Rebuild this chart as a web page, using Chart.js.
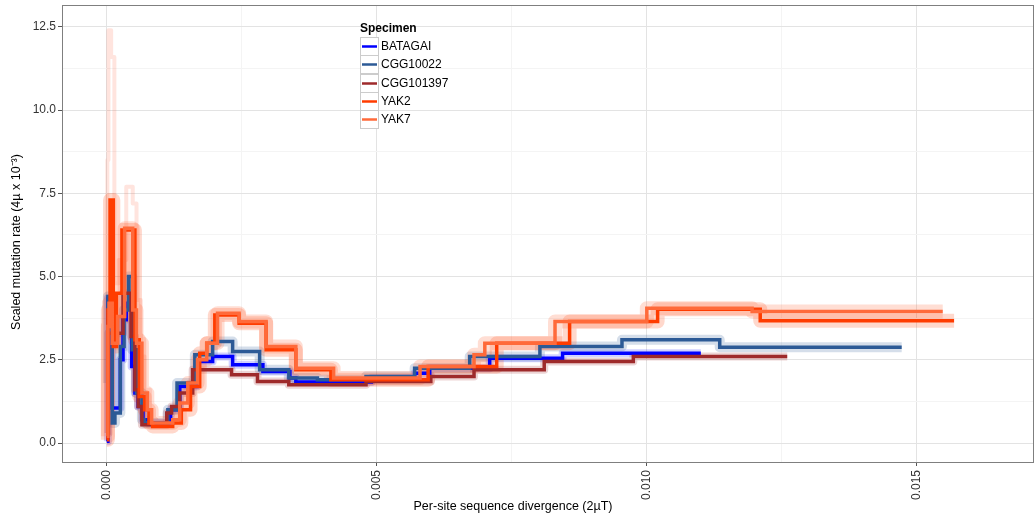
<!DOCTYPE html>
<html>
<head>
  <title>Scaled mutation rate by specimen</title>
  <script src="https://cdn.jsdelivr.net/npm/chart.js"></script>
  <style>
    body {
      margin: 0;
      background: #fff;
      font-family: "Liberation Sans", Arial, sans-serif;
    }
    .chart-box {
      position: relative;
      width: 1034px;
      height: 515px;
    }
  </style>
</head>
<body>
  <div class="chart-box">
    <canvas id="myChart"></canvas>
  </div>
  <script>
    const specimens = ['BATAGAI', 'CGG10022', 'CGG101397', 'YAK2', 'YAK7'];
    const colors = ['#0000ff', '#2c5a96', '#9e2a2b', '#ff3c00', '#ff6a3a'];
    const haloColors = ['rgba(0,0,255,0.18)', 'rgba(44,90,150,0.2)', 'rgba(158,42,43,0.2)', 'rgba(255,60,0,0.2)', 'rgba(255,106,58,0.22)'];
    const haloWidths = [8, 10, 8, 14, 14];

    // per-site divergence (x) where each step starts, scaled mutation rate (y)
    const batagaiX = [0, 0.00002, 0.0001, 0.00025, 0.0003, 0.00036, 0.00046, 0.00052, 0.00058, 0.00067, 0.00078, 0.00118, 0.00135, 0.00167, 0.00196, 0.00233, 0.00289, 0.00339, 0.0035, 0.0049, 0.0057, 0.00598, 0.00709, 0.00844, 0.0110];
    const batagaiY = [0.05, 4.35, 1.05, 2.5, 3.7, 4.2, 2.3, 1.5, 1.1, 0.7, 0.6, 1.0, 1.7, 2.45, 2.6, 2.35, 2.15, 1.95, 1.83, 1.95, 2.1, 2.25, 2.55, 2.7, 2.7];

    const cgg10022X = [0, 0.00002, 0.0001, 0.00015, 0.00025, 0.00032, 0.0004, 0.00047, 0.00055, 0.00065, 0.0007, 0.00113, 0.0013, 0.00163, 0.00196, 0.00233, 0.00283, 0.00337, 0.0039, 0.0048, 0.0057, 0.00672, 0.00802, 0.00954, 0.01135, 0.01472];
    const cgg10022Y = [1.8, 4.4, 0.6, 0.9, 2.9, 4.0, 5.0, 2.8, 1.5, 0.7, 0.6, 1.0, 1.8, 2.65, 3.05, 2.75, 2.2, 1.95, 1.9, 2.0, 2.25, 2.6, 2.9, 3.1, 2.88, 2.88];

    const cgg101397X = [0, 0.00003, 0.0003, 0.00045, 0.00052, 0.00058, 0.00065, 0.00111, 0.0012, 0.00135, 0.00159, 0.00231, 0.00279, 0.00337, 0.0048, 0.006, 0.0068, 0.0081, 0.00975, 0.0126];
    const cgg101397Y = [0.3, 3.3, 4.5, 3.2, 1.6, 1.1, 0.55, 0.9, 1.1, 1.5, 2.2, 2.05, 1.85, 1.75, 1.85, 2.0, 2.2, 2.45, 2.6, 2.6];

    const yak2X = [0, 0.00002, 0.00006, 0.00012, 0.00018, 0.00028, 0.00052, 0.0006, 0.0007, 0.00078, 0.00085, 0.00122, 0.00138, 0.00155, 0.00172, 0.00185, 0.002, 0.00245, 0.00295, 0.0035, 0.00415, 0.00595, 0.00722, 0.00857, 0.0102, 0.0121, 0.01569];
    const yak2Y = [0.1, 4.0, 7.3, 2.9, 4.5, 6.4, 3.1, 1.4, 1.0, 0.6, 0.5, 0.6, 1.0, 1.7, 2.7, 3.0, 3.85, 3.6, 2.8, 2.2, 1.9, 2.3, 3.0, 3.65, 4.02, 3.67, 3.67];

    const yak7X = [0, 0.00002, 0.00004, 0.0001, 0.0002, 0.00033, 0.00048, 0.00055, 0.00065, 0.00075, 0.00083, 0.00122, 0.00135, 0.0015, 0.00168, 0.00185, 0.00205, 0.00245, 0.00295, 0.0035, 0.0042, 0.0058, 0.0068, 0.007, 0.0083, 0.01, 0.01195, 0.01548];
    const yak7Y = [0.2, 3.5, 4.2, 3.0, 3.8, 6.45, 4.0, 3.0, 1.5, 1.0, 0.6, 0.7, 1.2, 1.8, 2.5, 3.0, 3.9, 3.65, 2.9, 2.25, 1.95, 2.3, 2.65, 3.0, 3.65, 4.05, 3.95, 3.95];

    // upper edge of the YAK bootstrap spread near the origin
    const yakBootX = [0, 0.00001, 0.00003, 0.00008, 0.00014, 0.00022, 0.00036, 0.00048, 0.00055, 0.00063, 0.0007, 0.0008];
    const yakBootY = [0.3, 8.5, 12.4, 11.6, 4.8, 5.5, 7.7, 7.2, 4.3, 2.6, 1.6, 0.9];

    const xTickLabels = [0, 0.005, 0.010, 0.015];
    const yTickLabels = [0, 2.5, 5, 7.5, 10, 12.5];

    const seriesX = [batagaiX, cgg10022X, cgg101397X, yak2X, yak7X];
    const seriesY = [batagaiY, cgg10022Y, cgg101397Y, yak2Y, yak7Y];

    const xStep = 0.005, yStep = 2.5;
    function isMajor(v, step) {
      const r = v / step;
      return Math.abs(r - Math.round(r)) < 1e-6;
    }
    // major ticks plus one minor line half way between
    function withMinor(list, step) {
      const out = [];
      list.forEach(v => { out.push(v); out.push(v + step / 2); });
      out.unshift(list[0] - step / 2);
      return out;
    }

    const datasets = [];
    datasets.push({
      label: 'YAK bootstrap', data: yakBootX.map((x, j) => ({ x: x, y: yakBootY[j] })),
      borderColor: 'rgba(255,90,50,0.16)', borderWidth: 4, borderJoinStyle: 'round',
      stepped: 'before', pointRadius: 0, order: 40
    });
    specimens.forEach((name, i) => {
      const pts = seriesX[i].map((x, j) => ({ x: x, y: seriesY[i][j] }));
      datasets.push({
        label: name + ' bootstrap', data: pts,
        borderColor: haloColors[i], borderWidth: haloWidths[i], borderJoinStyle: 'round',
        stepped: 'before', pointRadius: 0, order: 30 - i
      });
      datasets.push({
        label: name, data: pts,
        borderColor: colors[i], borderWidth: 3.5,
        stepped: 'before', pointRadius: 0, order: 10 - i
      });
    });

    const FONT = '"Liberation Sans", Arial, sans-serif';

    const legendBox = {
      id: 'legendBox',
      afterDraw(chart) {
        const ctx = chart.ctx;
        ctx.save();
        ctx.textBaseline = 'middle';
        ctx.fillStyle = '#000';
        ctx.font = 'bold 12px ' + FONT;
        ctx.fillText('Specimen', 360, 29);
        specimens.forEach((name, i) => {
          const top = Math.round(37 + i * 18.3);
          ctx.fillStyle = '#fff';
          ctx.fillRect(360, top, 18, 18);
          ctx.strokeStyle = '#cccccc';
          ctx.lineWidth = 1;
          ctx.strokeRect(360.5, top + 0.5, 18, 18);
          ctx.strokeStyle = colors[i];
          ctx.lineWidth = 2.5;
          ctx.beginPath();
          ctx.moveTo(362, top + 9.5);
          ctx.lineTo(377, top + 9.5);
          ctx.stroke();
          ctx.fillStyle = '#000';
          ctx.font = '12px ' + FONT;
          ctx.fillText(name, 381, top + 10);
        });

        // axis titles
        ctx.font = '12.5px ' + FONT;
        ctx.textAlign = 'center';
        ctx.fillText('Per-site sequence divergence (2µT)', 513, 507);
        ctx.translate(17, 242);
        ctx.rotate(-Math.PI / 2);
        ctx.fillText('Scaled mutation rate (4µ x 10⁻³)', 0, 0);
        ctx.restore();
      }
    };

    const panelBorder = {
      id: 'panelBorder',
      afterDatasetsDraw(chart) {
        const a = chart.chartArea;
        const ctx = chart.ctx;
        ctx.save();
        ctx.strokeStyle = '#7f7f7f';
        ctx.lineWidth = 1;
        ctx.strokeRect(a.left + 0.5, a.top + 0.5, a.right - a.left - 1, a.bottom - a.top);
        ctx.restore();
      }
    };

    const ctx = document.getElementById('myChart').getContext('2d');
    const chart = new Chart(ctx, {
      type: 'line',
      data: { datasets: datasets },
      plugins: [panelBorder, legendBox],
      options: {
        responsive: true,
        maintainAspectRatio: false,
        animation: false,
        layout: { padding: { top: 5, right: 0, left: 0, bottom: 0 } },
        plugins: { legend: { display: false }, tooltip: { enabled: false } },
        scales: {
          x: {
            type: 'linear',
            min: -0.00083,
            max: 0.01717,
            afterFit: s => { s.height = 53; s.paddingLeft = 0; s.paddingRight = 0; },
            afterBuildTicks: s => {
              s.ticks = withMinor(xTickLabels, xStep)
                .filter(v => v >= s.min && v <= s.max)
                .map(v => ({ value: v }));
            },
            ticks: {
              autoSkip: false,
              minRotation: 90,
              maxRotation: 90,
              padding: 4,
              color: '#333',
              font: { family: FONT, size: 12 },
              callback: v => isMajor(v, xStep) ? v.toFixed(3) : ''
            },
            grid: {
              color: c => isMajor(c.tick.value, xStep) ? '#e3e3e3' : '#f4f4f4',
              tickColor: c => isMajor(c.tick.value, xStep) ? '#555' : 'rgba(0,0,0,0)',
              tickLength: 4
            },
            border: { display: false }
          },
          y: {
            type: 'linear',
            min: -0.57,
            max: 13.16,
            afterFit: s => { s.width = 62; s.paddingTop = 0; s.paddingBottom = 0; },
            afterBuildTicks: s => {
              s.ticks = withMinor(yTickLabels, yStep)
                .filter(v => v >= s.min && v <= s.max)
                .map(v => ({ value: v }));
            },
            ticks: {
              padding: 2,
              color: '#333',
              font: { family: FONT, size: 12 },
              callback: v => isMajor(v, yStep) ? v.toFixed(1) : ''
            },
            grid: {
              color: c => isMajor(c.tick.value, yStep) ? '#e3e3e3' : '#f4f4f4',
              tickColor: c => isMajor(c.tick.value, yStep) ? '#555' : 'rgba(0,0,0,0)',
              tickLength: 4
            },
            border: { display: false }
          }
        }
      }
    });
  </script>
</body>
</html>
